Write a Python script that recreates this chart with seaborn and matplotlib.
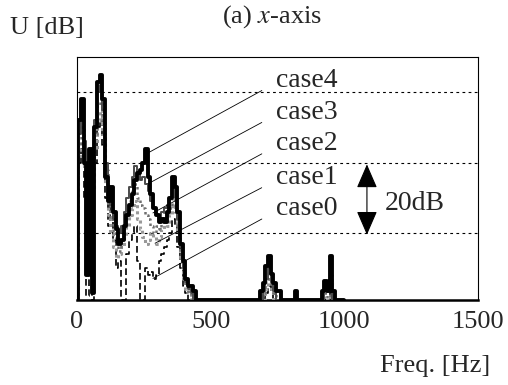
import numpy as np
import pandas as pd
import matplotlib
matplotlib.use("Agg")
import matplotlib.pyplot as plt
import seaborn as sns

# ---------------- data (dB, floor = 1) ----------------
freq = np.arange(0, 1010, 10)  # Hz sampling grid

case4 = [1, 52, 58, 40, 8, 44, 3, 50, 63, 65,
         58, 36, 29, 33, 26, 21, 17, 18, 22, 25,
         28, 31, 35, 37, 38, 40, 44, 36, 31, 27,
         25, 23, 24, 23, 26, 30, 36, 33, 26, 17,
         12, 7, 5, 5, 3.4, 1, 1, 1, 1, 1,
         1, 1, 1, 1, 1, 1, 1, 1, 1, 1,
         1, 1, 1, 1, 1, 1, 1, 1, 1, 3.4,
         5.7, 10.5, 13.4, 8.3, 5.7, 3.4, 3.4, 1, 1, 1,
         1, 1, 3.4, 1, 1, 1, 1, 1, 1, 1,
         1, 1, 3.4, 6.3, 3.4, 13.4, 3.4, 1, 1, 1,
         1]
case3 = [1, 48, 54, 46, 30, 40, 20, 52, 60, 62,
         55, 40, 32, 28, 24, 22, 20, 22, 26, 30,
         33, 36, 39, 37, 35, 36, 34, 32, 29, 27,
         25, 24, 26, 27, 28, 30, 33, 30, 24, 16,
         10, 6, 4, 3, 1, 1, 1, 1, 1, 1,
         1, 1, 1, 1, 1, 1, 1, 1, 1, 1,
         1, 1, 1, 1, 1, 1, 1, 1, 1, 1,
         3.4, 7, 10, 6, 3.4, 1, 1, 1, 1, 1,
         1, 1, 1, 1, 1, 1, 1, 1, 1, 1,
         1, 1, 1, 4, 3.4, 10, 1, 1, 1, 1,
         1]
case2 = [1, 45, 50, 40, 38, 42, 36, 48, 56, 58,
         52, 38, 28, 24, 20, 17, 15, 18, 22, 26,
         29, 32, 34, 30, 28, 27, 25, 24, 22, 20,
         22, 21, 24, 26, 25, 27, 30, 28, 22, 14,
         9, 5, 3, 1, 1, 1, 1, 1, 1, 1,
         1, 1, 1, 1, 1, 1, 1, 1, 1, 1,
         1, 1, 1, 1, 1, 1, 1, 1, 1, 1,
         3, 6, 9, 5, 3, 1, 1, 1, 1, 1,
         1, 1, 1, 1, 1, 1, 1, 1, 1, 1,
         1, 1, 1, 3, 1, 8, 1, 1, 1, 1,
         1]
case1 = [1, 42, 46, 38, 34, 38, 32, 44, 52, 55,
         48, 34, 25, 20, 16, 13, 14, 16, 19, 22,
         25, 27, 29, 24, 21, 19, 17, 18, 20, 19,
         17, 19, 21, 23, 22, 25, 28, 26, 20, 12,
         7, 4, 3, 1, 1, 1, 1, 1, 1, 1,
         1, 1, 1, 1, 1, 1, 1, 1, 1, 1,
         1, 1, 1, 1, 1, 1, 1, 1, 1, 1,
         1, 4, 7, 4, 1, 1, 1, 1, 1, 1,
         1, 1, 1, 1, 1, 1, 1, 1, 1, 1,
         1, 1, 1, 1, 1, 6, 1, 1, 1, 1,
         1]
case0 = [1, 40, 44, 30, 2, 34, 1, 40, 50, 52,
         45, 30, 22, 30, 18, 10, 12, 1, 1, 14,
         18, 20, 22, 12, 1, 1, 10, 8, 9, 7,
         8, 12, 14, 16, 18, 20, 24, 22, 16, 10,
         5, 3, 1, 1, 1, 1, 1, 1, 1, 1,
         1, 1, 1, 1, 1, 1, 1, 1, 1, 1,
         1, 1, 1, 1, 1, 1, 1, 1, 1, 1,
         1, 3, 5, 3, 1, 1, 1, 1, 1, 1,
         1, 1, 1, 1, 1, 1, 1, 1, 1, 1,
         1, 1, 1, 1, 1, 4, 1, 1, 1, 1,
         1]

case_names = ["case0", "case1", "case2", "case3", "case4"]
case_values = [case0, case1, case2, case3, case4]
case_colors = ["black", "#999999", "#707070", "#4a4a4a", "black"]
case_widths = [1.2, 2.2, 1.8, 1.4, 2.8]
case_styles = [(0, (4, 2)), (0, (1, 1)), (0, (1, 1.2)), "-", "-"]

# label anchor points on the curves (Hz, dB) and label text positions
label_targets = {"case4": (262, 42.6), "case3": (266, 34.0), "case2": (284, 25.7),
                 "case1": (292, 17.1), "case0": (284, 7.1)}
label_text_y = {"case4": 63.4, "case3": 54.3, "case2": 45.4, "case1": 35.7, "case0": 26.9}
label_text_x = 745

xticks = [0, 500, 1000, 1500]
grid_db = [20, 40, 60]

# ---------------- plot ----------------
sns.set_style("white")
plt.rcParams["font.family"] = ["Liberation Serif", "DejaVu Serif"]
plt.rcParams["mathtext.fontset"] = "stix"

fig = plt.figure(figsize=(5.08, 3.85), dpi=100)
ax = fig.add_axes([0.1516, 0.221, 0.789, 0.631])

for name, vals, col, lw, ls in zip(case_names, case_values, case_colors, case_widths, case_styles):
    df = pd.DataFrame({"freq": freq, "dB": vals})
    sns.lineplot(data=df, x="freq", y="dB", ax=ax, color=col, linewidth=lw,
                 linestyle=ls, drawstyle="steps-mid", zorder=3 if name != "case4" else 4)

for g in grid_db:
    ax.axhline(g, color="black", lw=0.8, ls=(0, (2.5, 3)), zorder=1)

ax.set_xlim(0, 1500)
ax.set_ylim(1.0, 70)
ax.set_xticks(xticks)
ax.set_xticklabels([str(t) for t in xticks], fontsize=19)
ax.set_yticks([])
ax.tick_params(axis="x", length=0, pad=8)
ax.set_xlabel("")
ax.set_ylabel("")
for side in ["left", "top", "right"]:
    ax.spines[side].set_linewidth(0.8)
    ax.spines[side].set_color("black")
ax.spines["bottom"].set_linewidth(1.8)
ax.spines["bottom"].set_color("black")

for name in case_names[::-1]:
    ax.annotate(name, xy=label_targets[name], xytext=(label_text_x, label_text_y[name]),
                textcoords="data", ha="left", va="center", fontsize=20,
                arrowprops=dict(arrowstyle="-", lw=0.6, color="black",
                                shrinkA=9, shrinkB=0, relpos=(0, 0.4)), zorder=5)

# 20 dB double arrow
ax.annotate("", xy=(1085, 39.5), xytext=(1085, 19.5), textcoords="data",
            arrowprops=dict(arrowstyle="<|-|>,head_length=1.5,head_width=0.65",
                            mutation_scale=10, lw=0.8, color="black",
                            shrinkA=0, shrinkB=0))
ax.text(1150, 28.3, "20dB", ha="left", va="center", fontsize=20)

fig.text(272 / 508, 1 - 17 / 385, "(a) $\\it{x}$-axis", ha="center", va="center", fontsize=19)
fig.text(10 / 508, 1 - 28 / 385, "U [dB]", ha="left", va="center", fontsize=19)
fig.text(490 / 508, 1 - 366 / 385, "Freq. [Hz]", ha="right", va="center", fontsize=19)

fig.savefig("out.png", dpi=100)
